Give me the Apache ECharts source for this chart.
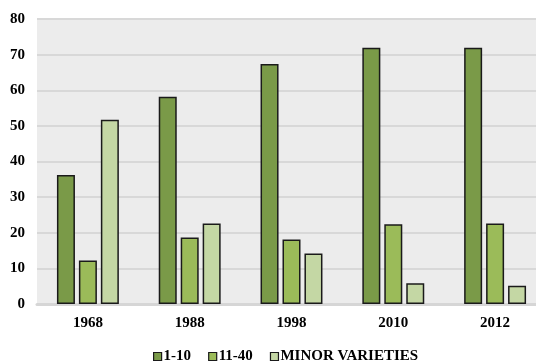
<!DOCTYPE html>
<html>
<head>
<meta charset="utf-8">
<script src="https://cdn.jsdelivr.net/npm/echarts@6/dist/echarts.min.js"></script>
<style>
  html, body { margin: 0; padding: 0; background: #fff; }
  #chart { width: 536px; height: 361px; }
</style>
</head>
<body>
<div id="chart"></div>
<script>
// years on the x axis
var years = ["1968", "1988", "1998", "2010", "2012"];
// values
var top10 = [36.2, 58.2, 67.4, 71.9, 71.9];
var mid40 = [12.2, 18.7, 18.1, 22.4, 22.6];
var minor = [51.7, 22.6, 14.2, 5.8, 5.1];
var names = ["1-10", "11-40", "MINOR VARIETIES"];
var colors = ["#7a9a48", "#9bbb59", "#c4d7a4"];

var font = "'Liberation Serif', 'Times New Roman', serif";
var ser = [];
var vals = [top10, mid40, minor];
for (var i = 0; i < names.length; ++i) {
    ser.push({
        name: names[i],
        type: 'bar',
        barWidth: 18,
        barGap: '22%',
        itemStyle: { color: colors[i], borderColor: '#1a1a1a', borderWidth: 1.5 },
        data: vals[i]
    });
}

var option = {
    animation: false,
    legend: {
        data: names,
        top: 344,
        left: 148,
        icon: 'rect',
        itemWidth: 8,
        itemHeight: 8,
        itemGap: 17,
        itemStyle: { borderColor: '#1a1a1a', borderWidth: 1.2 },
        textStyle: { fontFamily: font, fontWeight: 'bold', fontSize: 15, color: '#000', padding: [0, 0, 0, -3] }
    },
    grid: {
        left: 37,
        top: 19,
        width: 509,
        height: 285,
        outerBoundsMode: 'none',
        show: true,
        backgroundColor: '#ececec',
        borderWidth: 0
    },
    xAxis: {
        type: 'category',
        data: years,
        axisLine: { lineStyle: { color: '#d6d6d6', width: 3 } },
        axisTick: { show: false },
        axisLabel: { fontFamily: font, fontWeight: 'bold', fontSize: 15, color: '#000', margin: 12 }
    },
    yAxis: {
        type: 'value',
        min: 0,
        max: 80,
        interval: 10,
        axisLine: { show: false },
        axisTick: { show: false },
        splitLine: { lineStyle: { color: '#d8d8d8', width: 2 } },
        axisLabel: { fontFamily: font, fontWeight: 'bold', fontSize: 15, color: '#000', margin: 12 }
    },
    series: ser
};
echarts.init(document.getElementById('chart')).setOption(option);
</script>
</body>
</html>
